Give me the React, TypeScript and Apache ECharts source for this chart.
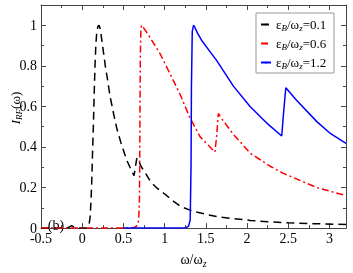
import React, { useEffect, useRef } from "react";
import * as echarts from "echarts";

const FONT = "Liberation Serif";

// ε_B/ω_z = 0.1 (black dashed)
const blackX = [-0.5, -0.2, -0.16, -0.13, -0.1, -0.05, 0, 0.05, 0.08, 0.095, 0.105, 0.115, 0.125, 0.135, 0.145, 0.155, 0.165, 0.175, 0.19, 0.205, 0.22, 0.24, 0.26, 0.28, 0.3, 0.337, 0.38, 0.418, 0.47, 0.54, 0.6, 0.629, 0.645, 0.66, 0.669, 0.68, 0.72, 0.78, 0.83, 0.9, 0.944, 1.0, 1.1, 1.2, 1.3, 1.4, 1.5, 1.63, 1.83, 2.04, 2.25, 2.5, 2.8, 3.2];
const blackY = [0, 0, 0.004, 0.012, 0.006, 0.001, 0, 0.001, 0.01, 0.05, 0.12, 0.22, 0.37, 0.5, 0.66, 0.8, 0.9, 0.96, 0.995, 1.0, 0.98, 0.92, 0.86, 0.8, 0.75, 0.652, 0.565, 0.494, 0.42, 0.335, 0.282, 0.259, 0.3, 0.34, 0.346, 0.335, 0.3, 0.263, 0.228, 0.2, 0.186, 0.168, 0.135, 0.105, 0.09, 0.078, 0.068, 0.057, 0.047, 0.038, 0.031, 0.026, 0.022, 0.018];

// ε_B/ω_z = 0.6 (red dash-dot)
const redX = [-0.5, 0.6, 0.64, 0.67, 0.685, 0.695, 0.7, 0.705, 0.712, 0.72, 0.74, 0.8, 0.944, 1.066, 1.187, 1.3, 1.43, 1.55, 1.61, 1.63, 1.652, 1.7, 1.834, 2.036, 2.28, 2.44, 2.846, 3.2];
const redY = [0, 0, 0.004, 0.015, 0.04, 0.15, 0.5, 0.85, 0.98, 1.0, 0.99, 0.955, 0.86, 0.76, 0.66, 0.55, 0.45, 0.4, 0.375, 0.45, 0.565, 0.535, 0.462, 0.37, 0.305, 0.27, 0.2, 0.16];

// ε_B/ω_z = 1.2 (blue solid)
const blueX = [0.5, 1.25, 1.29, 1.31, 1.32, 1.325, 1.335, 1.35, 1.36, 1.4, 1.45, 1.55, 1.63, 1.834, 2.036, 2.26, 2.42, 2.445, 2.47, 2.6, 2.846, 3.0, 3.2];
const blueY = [0, 0, 0.01, 0.04, 0.3, 0.7, 0.97, 1.0, 0.995, 0.96, 0.925, 0.87, 0.827, 0.7, 0.6, 0.51, 0.454, 0.58, 0.692, 0.63, 0.525, 0.47, 0.418];

const seriesNames = ["0.1", "0.6", "1.2"];
const seriesColors = ["#000000", "#ff0000", "#0000ff"];

const xMin = -0.5;
const xMax = 3.2;
const xStep = 0.5;
const yMin = 0;
const yMax = 1.1;
const yStep = 0.2;

const pairs = (xs: number[], ys: number[]) => xs.map((x, i) => [x, ys[i]]);

export default function App() {
  const ref = useRef<HTMLDivElement>(null);
  useEffect(() => {
    if (!ref.current) return;
    const chart = echarts.init(ref.current, undefined, { renderer: "svg" });
    const axisColor = "#444";
    const tickCommon = {
      axisLine: { show: true, onZero: false, lineStyle: { color: axisColor, width: 1 } },
      axisTick: { show: true, inside: true, length: 5, lineStyle: { color: axisColor } },
      minorTick: { show: true, splitNumber: 2, length: 3, lineStyle: { color: axisColor } },
      splitLine: { show: false },
    };
    const labelStyle = { fontFamily: FONT, fontSize: 14, color: "#000" };
    const sub = { fontFamily: FONT, fontSize: 10, fontStyle: "italic", lineHeight: 10, padding: [8, 0, 0, 0] };
    const legSub = { fontFamily: FONT, fontSize: 9, fontStyle: "italic", lineHeight: 8, padding: [6, 0, 0, 0] };
    const option: any = {
      animation: false,
      grid: { left: 41, right: 7, top: 5, bottom: 36 },
      xAxis: [
        {
          type: "value", min: xMin, max: xMax, interval: xStep, position: "bottom",
          ...tickCommon,
          axisLabel: { ...labelStyle, margin: 3, showMaxLabel: false, formatter: (v: number) => String(+v.toFixed(2)) },
          name: "ω/ω{s|z}", nameLocation: "middle", nameGap: 14,
          nameTextStyle: { ...labelStyle, lineHeight: 16, rich: { s: sub } },
        },
        {
          type: "value", min: xMin, max: xMax, interval: xStep, position: "top",
          ...tickCommon, axisLabel: { show: false },
        },
      ],
      yAxis: [
        {
          type: "value", min: yMin, max: yMax, interval: yStep, position: "left",
          ...tickCommon,
          axisLabel: { ...labelStyle, margin: 4, showMaxLabel: false, formatter: (v: number) => String(+v.toFixed(2)) },
        },
        {
          type: "value", min: yMin, max: yMax, interval: yStep, position: "right",
          ...tickCommon, axisLabel: { show: false },
        },
      ],
      legend: {
        orient: "vertical", left: 256, top: 17,
        data: seriesNames,
        itemWidth: 10, itemHeight: 2, itemGap: 4,
        padding: [0, 0, 0, 4],
        borderWidth: 0,
        formatter: (n: string) => "ε{s|B}/ω{s|z}=" + n,
        textStyle: { fontFamily: FONT, fontSize: 13, color: "#000", lineHeight: 14, rich: { s: legSub } },
      },
      graphic: [
        {
          type: "rect", z: 0,
          shape: { x: 256, y: 13, width: 78, height: 60 },
          style: { fill: "#fff", stroke: "#999", lineWidth: 1 },
        },
        {
          type: "text", x: 15, y: 108, rotation: Math.PI / 2,
          style: {
            text: "{i|I}{s|RF}{n|(ω)}",
            align: "center", verticalAlign: "middle",
            rich: {
              i: { fontFamily: FONT, fontSize: 13, fontStyle: "italic", lineHeight: 15 },
              s: { fontFamily: FONT, fontSize: 9, fontStyle: "italic", lineHeight: 9, padding: [7, 0, 0, 0] },
              n: { fontFamily: FONT, fontSize: 13, lineHeight: 15 },
            },
            fill: "#000",
          },
        },
        {
          type: "text", x: 56, y: 225,
          style: { text: "(b)", font: `14px "${FONT}"`, align: "center", verticalAlign: "middle", fill: "#000" },
        },
      ],
      series: [
        {
          name: seriesNames[0], type: "line", data: pairs(blackX, blackY), symbol: "none", showSymbol: false,
          lineStyle: { color: seriesColors[0], width: 1.5, type: [8, 5] }, itemStyle: { color: seriesColors[0] },
        },
        {
          name: seriesNames[1], type: "line", data: pairs(redX, redY), symbol: "none", showSymbol: false,
          lineStyle: { color: seriesColors[1], width: 1.5, type: [7, 3, 2, 3] }, itemStyle: { color: seriesColors[1] },
        },
        {
          name: seriesNames[2], type: "line", data: pairs(blueX, blueY), symbol: "none", showSymbol: false,
          lineStyle: { color: seriesColors[2], width: 1.5, type: "solid" }, itemStyle: { color: seriesColors[2] },
        },
      ],
    };
    chart.setOption(option);
    return () => chart.dispose();
  }, []);
  return <div ref={ref} style={{ position: "fixed", left: 0, top: 0, width: 353, height: 273 }} />;
}
